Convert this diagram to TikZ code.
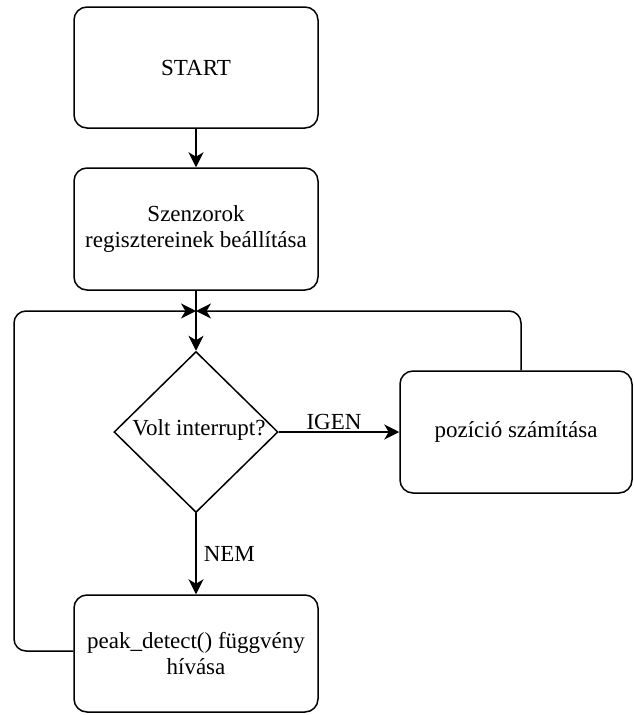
\documentclass[tikz,border=0pt]{standalone}
\usepackage{fontspec}
\setmainfont{Liberation Serif}
\usetikzlibrary{arrows.meta,shapes.geometric}
\begin{document}
\begin{tikzpicture}[x=1pt,y=-1pt,
  txt/.style={font=\fontsize{23}{26}\selectfont, align=center},
  box/.style={draw, line width=1.5pt, rounded corners=13pt, inner sep=0pt, txt},
  conn/.style={line width=1.5pt},
  arr/.style={conn, -{Stealth[length=15pt, width=15pt, inset=4.5pt]}},
  lbl/.style={font=\fontsize{23}{26}\selectfont, inner sep=2pt}]
\useasboundingbox (0,0) rectangle (634,715);
\node[box, minimum width=244pt, minimum height=121pt] (start) at (196,67.5) {START};
\node[box, minimum width=244pt, minimum height=122pt] (szenz) at (196,229) {Szenzorok\\regisztereinek beállítása};
\node[draw, diamond, line width=1.5pt, minimum width=164pt, minimum height=161pt, inner sep=0pt] (dec) at (196,432) {};
\node[txt, inner sep=0pt] (dectext) at ([xshift=3pt,yshift=2pt]dec.center) {Volt interrupt?};
\node[box, minimum width=232pt, minimum height=122pt] (poz) at (516,432) {pozíció számítása};
\node[box, minimum width=244pt, minimum height=117pt] (peak) at (196,653.5) {peak\_detect() függvény\\hívása};
\coordinate (J) at (196,311);
\coordinate (L) at (14,311);
\coordinate (R) at (521,311);
\draw[arr] (start.south) -- (szenz.north);
\draw[conn] (szenz.south) -- (J);
\draw[arr] (J) -- (dec.north);
\draw[arr] (dec.east) -- node[lbl, above, xshift=-5pt] (igen) {IGEN} (poz.west);
\draw[arr] (dec.south) -- node[lbl, right, inner sep=7pt] (nem) {NEM} (peak.north);
\draw[arr, rounded corners=12pt] ([xshift=5pt]poz.north) -- (R) -- (J);
\draw[arr, rounded corners=12pt] ([yshift=2.5pt]peak.west) -| (L) -- (J);
\end{tikzpicture}
\end{document}
